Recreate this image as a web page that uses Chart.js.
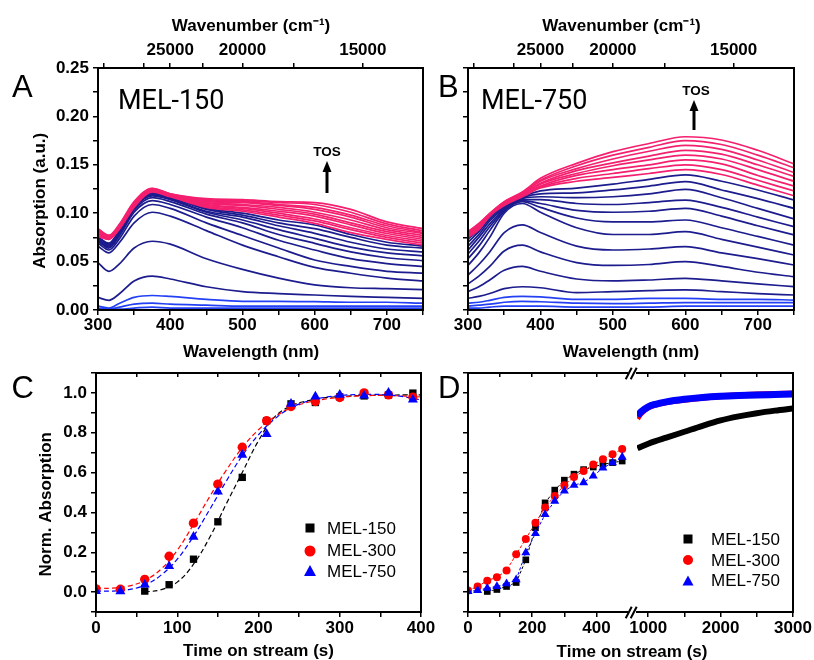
<!DOCTYPE html>
<html><head><meta charset="utf-8">
<script src="https://cdn.jsdelivr.net/npm/chart.js@4.4.1/dist/chart.umd.min.js"></script>
<style>
html,body{margin:0;padding:0;background:#fff;}
#wrap{position:relative;width:814px;height:660px;overflow:hidden;background:#fff;font-family:'Liberation Sans',Arial,sans-serif;}
canvas{position:absolute;}
.t{position:absolute;white-space:nowrap;line-height:1;color:#000;z-index:5;}
.letter{font-size:31px;}
.mel{font-family:Roboto,'Liberation Sans',sans-serif;font-size:27px;}
.tos{font-weight:bold;font-size:13.5px;transform:translateX(-50%);}
.leg{font-size:17px;}
.mk{position:absolute;z-index:5;}
.dt{font-weight:bold;font-size:17px;transform:translateX(-50%);}
</style></head><body>
<div id="wrap">
<canvas id="cA" width="440" height="365" style="left:0;top:0;width:440px;height:365px"></canvas>
<canvas id="cB" width="384" height="365" style="left:430px;top:0;width:384px;height:365px"></canvas>
<canvas id="cC" width="440" height="320" style="left:0;top:340px;width:440px;height:320px"></canvas>
<canvas id="cDL" width="210" height="320" style="left:430px;top:340px;width:210px;height:320px"></canvas>
<canvas id="cDR" width="189" height="320" style="left:625px;top:340px;width:189px;height:320px"></canvas>

<div class="t letter" style="left:12px;top:70.8px">A</div>
<div class="t letter" style="left:438px;top:70.8px">B</div>
<div class="t letter" style="left:11.5px;top:371.8px">C</div>
<div class="t letter" style="left:438px;top:371.8px">D</div>
<div class="t mel" style="left:118px;top:87.3px">MEL-150</div>
<div class="t mel" style="left:481px;top:87.3px">MEL-750</div>
<div class="t tos" style="left:327px;top:145.4px">TOS</div>
<div class="t tos" style="left:696px;top:84.4px">TOS</div>
<svg class="mk" width="814" height="660" style="left:0;top:0;pointer-events:none">
  <line x1="327" y1="193" x2="327" y2="170" stroke="#000" stroke-width="3"/>
  <polygon points="327,161 322.5,172 331.5,172" fill="#000"/>
  <line x1="694" y1="130" x2="694" y2="109" stroke="#000" stroke-width="3"/>
  <polygon points="694,100 689.5,111 698.5,111" fill="#000"/>
</svg>

<svg class="mk" width="14" height="14" style="left:303px;top:521.3px"><rect x="2.5" y="2.5" width="9" height="9" fill="#000"/></svg>
<svg class="mk" width="14" height="14" style="left:303px;top:543.7px"><circle cx="7" cy="7" r="5.5" fill="#ff0000"/></svg>
<svg class="mk" width="14" height="14" style="left:303px;top:564px"><polygon points="7,1 13,12 1,12" fill="#0000ff"/></svg>
<div class="t leg" style="left:327px;top:520px">MEL-150</div>
<div class="t leg" style="left:327px;top:542.4px">MEL-300</div>
<div class="t leg" style="left:327px;top:562.7px">MEL-750</div>

<svg class="mk" width="14" height="14" style="left:681.3px;top:532.3px"><rect x="2.5" y="2.5" width="9" height="9" fill="#000"/></svg>
<svg class="mk" width="14" height="14" style="left:681.3px;top:553px"><circle cx="7" cy="7" r="5" fill="#ff0000"/></svg>
<svg class="mk" width="14" height="14" style="left:681.3px;top:573.7px"><polygon points="7,1.5 12.5,11.5 1.5,11.5" fill="#0000ff"/></svg>
<div class="t leg" style="left:711px;top:531px">MEL-150</div>
<div class="t leg" style="left:711px;top:551.7px">MEL-300</div>
<div class="t leg" style="left:711px;top:572.4px">MEL-750</div>
<div class="t dt" style="left:632px;top:643.4px">Time on stream (s)</div>
</div>
<script>
// ---------------- DATA ----------------
const nm = [300,315,330,350,375,400,450,500,550,600,650,700,750];

// MEL-150 spectra (early TOS -> late TOS)
const specA = [
  [0.001,0.001,0.001,0.002,0.003,0.002,0.002,0.002,0.002,0.002,0.002,0.002,0.002],
  [0.002,0.001,0.003,0.006,0.007,0.006,0.005,0.004,0.004,0.004,0.004,0.004,0.004],
  [0.004,0.002,0.007,0.013,0.015,0.014,0.011,0.009,0.009,0.0086,0.008,0.008,0.007],
  [0.013,0.010,0.017,0.030,0.035,0.032,0.024,0.019,0.017,0.0155,0.014,0.013,0.012],
  [0.049,0.040,0.048,0.064,0.071,0.068,0.053,0.042,0.033,0.026,0.023,0.022,0.021],
  [0.066,0.059,0.070,0.090,0.101,0.097,0.082,0.067,0.055,0.044,0.038,0.033,0.030],
  [0.069,0.062,0.074,0.097,0.109,0.105,0.090,0.077,0.064,0.0517,0.045,0.040,0.038],
  [0.071,0.064,0.077,0.101,0.113,0.109,0.096,0.085,0.072,0.062,0.053,0.048,0.045],
  [0.072,0.065,0.079,0.103,0.116,0.112,0.099,0.090,0.078,0.0689,0.060,0.054,0.051],
  [0.073,0.066,0.080,0.105,0.118,0.114,0.101,0.093,0.083,0.074,0.065,0.059,0.056],
  [0.074,0.067,0.081,0.106,0.119,0.115,0.102,0.096,0.087,0.0792,0.070,0.063,0.060],
  [0.075,0.068,0.082,0.107,0.120,0.116,0.104,0.098,0.090,0.084,0.075,0.067,0.064],
  [0.0755,0.069,0.083,0.108,0.121,0.1165,0.105,0.100,0.093,0.0878,0.078,0.070,0.066],
  [0.076,0.073,0.084,0.106,0.122,0.117,0.106,0.102,0.096,0.0895,0.080,0.073,0.067],
  [0.077,0.073,0.085,0.107,0.1225,0.1175,0.107,0.1035,0.098,0.092,0.083,0.075,0.069],
  [0.078,0.074,0.085,0.108,0.123,0.118,0.108,0.105,0.100,0.094,0.085,0.077,0.071],
  [0.079,0.074,0.086,0.108,0.1235,0.118,0.109,0.106,0.102,0.097,0.088,0.079,0.073],
  [0.080,0.075,0.086,0.109,0.124,0.1185,0.110,0.108,0.104,0.099,0.090,0.081,0.075],
  [0.081,0.075,0.087,0.110,0.1245,0.119,0.111,0.109,0.106,0.101,0.093,0.083,0.077],
  [0.082,0.076,0.087,0.110,0.125,0.119,0.112,0.111,0.108,0.104,0.096,0.085,0.079],
  [0.083,0.076,0.088,0.111,0.125,0.1195,0.113,0.112,0.109,0.106,0.098,0.087,0.080],
  [0.0835,0.077,0.088,0.111,0.1255,0.120,0.114,0.113,0.111,0.109,0.101,0.089,0.082],
  [0.084,0.077,0.089,0.112,0.1257,0.120,0.115,0.114,0.112,0.111,0.104,0.091,0.084]
];
// MEL-750 spectra
const specB = [
  [0.002,0.002,0.003,0.004,0.004,0.004,0.003,0.003,0.003,0.004,0.004,0.004,0.004],
  [0.004,0.005,0.006,0.008,0.009,0.0085,0.007,0.0065,0.007,0.0076,0.0076,0.0076,0.0076],
  [0.007,0.008,0.010,0.013,0.014,0.0135,0.011,0.011,0.012,0.012,0.011,0.011,0.0103],
  [0.012,0.014,0.017,0.022,0.024,0.023,0.018,0.019,0.020,0.0207,0.019,0.017,0.0155],
  [0.019,0.024,0.031,0.041,0.045,0.040,0.032,0.030,0.031,0.0327,0.030,0.027,0.0241],
  [0.027,0.035,0.045,0.061,0.067,0.060,0.049,0.046,0.047,0.0499,0.045,0.039,0.0344],
  [0.036,0.047,0.060,0.080,0.088,0.080,0.066,0.062,0.063,0.0654,0.059,0.053,0.0465],
  [0.046,0.059,0.075,0.100,0.110,0.101,0.085,0.078,0.078,0.0809,0.073,0.065,0.0568],
  [0.053,0.066,0.082,0.102,0.112,0.106,0.095,0.091,0.091,0.093,0.085,0.076,0.067],
  [0.058,0.071,0.086,0.103,0.113,0.110,0.103,0.101,0.102,0.105,0.097,0.087,0.0775],
  [0.062,0.075,0.089,0.104,0.114,0.114,0.110,0.109,0.111,0.1136,0.106,0.096,0.086],
  [0.066,0.078,0.092,0.105,0.115,0.117,0.116,0.117,0.120,0.1247,0.116,0.105,0.094],
  [0.070,0.081,0.094,0.106,0.116,0.120,0.121,0.124,0.128,0.1326,0.124,0.115,0.105],
  [0.073,0.083,0.096,0.107,0.117,0.123,0.126,0.130,0.135,0.1395,0.133,0.124,0.1136],
  [0.075,0.083,0.097,0.108,0.117,0.126,0.133,0.137,0.141,0.145,0.140,0.129,0.118],
  [0.076,0.084,0.0975,0.1085,0.118,0.127,0.136,0.141,0.146,0.150,0.145,0.134,0.123],
  [0.077,0.085,0.098,0.109,0.1185,0.128,0.139,0.145,0.150,0.155,0.151,0.139,0.128],
  [0.078,0.086,0.098,0.110,0.119,0.130,0.141,0.149,0.155,0.160,0.156,0.145,0.133],
  [0.079,0.087,0.099,0.110,0.120,0.131,0.144,0.152,0.159,0.165,0.161,0.150,0.138],
  [0.0795,0.088,0.099,0.111,0.1205,0.133,0.146,0.156,0.164,0.170,0.166,0.155,0.142],
  [0.080,0.089,0.0995,0.1115,0.121,0.134,0.149,0.160,0.168,0.175,0.171,0.160,0.147],
  [0.081,0.0895,0.0998,0.112,0.122,0.136,0.1515,0.1636,0.172,0.179,0.1756,0.165,0.151]
];
const wnTicks = [32500,27500,25000,22500,20000,17500,15000];
const wnLabels = [25000,20000,15000];
const nmTicks = [300,350,400,450,500,550,600,650,700,750];
const absTicks = [0,0.025,0.05,0.075,0.1,0.125,0.15,0.175,0.2,0.225,0.25];

// Panel C
const tC = [0,30,60,90,120,150,180,210,240,270,300,330,360,390];
const c150 = [null,null,0.005,0.037,0.165,0.353,0.576,0.86,0.945,0.952,0.98,0.985,0.99,0.999];
const c300 = [0.016,0.014,0.064,0.18,0.346,0.542,0.727,0.86,0.932,0.957,0.977,1.0,0.99,0.979];
const c750 = [0.005,0.004,0.037,0.13,0.277,0.504,0.689,0.793,0.945,0.982,0.99,0.986,1.0,0.966];
const tFit = [0,20,40,60,80,100,120,140,160,180,200,220,240,260,280,300,320,340,360,380,400];
const fit150 = [null,null,null,0.0,0.012,0.05,0.14,0.275,0.44,0.6,0.76,0.88,0.935,0.96,0.975,0.982,0.986,0.988,0.989,0.99,0.99];
const fit300 = [0.02,0.02,0.03,0.058,0.115,0.21,0.34,0.48,0.61,0.725,0.815,0.88,0.925,0.952,0.968,0.978,0.984,0.987,0.987,0.984,0.98];
const fit750 = [0.005,0.005,0.012,0.035,0.085,0.165,0.28,0.415,0.555,0.685,0.79,0.87,0.925,0.958,0.977,0.987,0.992,0.993,0.99,0.98,0.965];
const cXTicks = [0,50,100,150,200,250,300,350,400];
const normTicks = [-0.1,0,0.1,0.2,0.3,0.4,0.5,0.6,0.7,0.8,0.9,1.0,1.1];

// Panel D (short times)
const tD = [0,30,60,90,120,150,180,210,240,270,300,330,360,390,420,450,480];
const d150 = [null,null,0.003,0.013,0.028,0.048,0.162,0.323,0.448,0.512,0.562,0.592,0.615,0.628,0.642,0.65,0.658];
const d300 = [0.008,0.028,0.057,0.075,0.108,0.19,0.267,0.348,0.425,0.483,0.537,0.578,0.608,0.64,0.667,0.692,0.718];
const d750 = [0.003,0.008,0.02,0.028,0.042,0.062,0.198,0.295,0.39,0.457,0.508,0.537,0.55,0.583,0.623,0.65,0.678];
// Panel D (long times)
const tDL = [850,900,1000,1100,1250,1500,1750,2000,2250,2500,2750,3000];
const dl150 = [0.722,0.73,0.745,0.758,0.775,0.805,0.835,0.862,0.882,0.898,0.911,0.922];
const dl300 = [0.872,0.898,0.927,0.941,0.953,0.966,0.976,0.983,0.988,0.992,0.995,0.997];
const dl750 = [0.885,0.905,0.93,0.943,0.955,0.968,0.977,0.983,0.987,0.99,0.992,0.994];
const dXTicks1 = [0,100,200,300,400];
const dXTicks2 = [1000,1500,2000,2500,3000];

// ---------------- HELPERS ----------------
const FAM = "'Liberation Sans', Arial, sans-serif";
const TF = {family:FAM, size:17, weight:'bold'};
const TIT = {family:FAM, size:17, weight:'bold', lineHeight:1};
Chart.defaults.color = '#000';
Chart.defaults.font.family = FAM;
function grid(len){ return {display:true, drawOnChartArea:false, drawTicks:true, tickLength:len, color:'#000', lineWidth:1.5}; }
function fixed(size){ return s => { if (s.isHorizontal()) s.height = size; else s.width = size; }; }
function setTicks(list){ return s => { s.ticks = list.map(v => ({value:v})); }; }
function pts(xs, ys){ return xs.map((x,i)=>({x:x, y:ys[i]})); }
// later datasets drawn on top
function stackOrder(ds){ ds.forEach((d,i)=>{ d.order = -i; }); return ds; }
function frame(sides){
  return {id:'frame', afterDraw(c){
    const a=c.chartArea, x=c.ctx; x.save(); x.strokeStyle='#000'; x.lineWidth=2; x.lineCap='square';
    x.beginPath();
    if (sides.includes('l')) { x.moveTo(a.left,a.top); x.lineTo(a.left,a.bottom); }
    if (sides.includes('r')) { x.moveTo(a.right,a.top); x.lineTo(a.right,a.bottom); }
    if (sides.includes('t')) { x.moveTo(a.left,a.top); x.lineTo(a.right,a.top); }
    if (sides.includes('b')) { x.moveTo(a.left,a.bottom); x.lineTo(a.right,a.bottom); }
    x.stroke();
    if (sides.includes('k')) {
      x.lineCap='butt';
      [a.top, a.bottom].forEach(y => {
        x.beginPath();
        x.moveTo(a.right-1.3, y+6.3); x.lineTo(a.right+4.7, y-5.3);
        x.moveTo(a.right+3.7, y+6.3); x.lineTo(a.right+9.7, y-5.3);
        x.stroke();
      });
    }
    x.restore();
  }};
}
const common = {responsive:false, animation:false, events:[], devicePixelRatio:1,
  plugins:{legend:{display:false}, tooltip:{enabled:false}}};

function specColor(i, nBright, nNavy){
  if (i < nBright) return '#2440f5';
  if (i < nNavy) return '#1c1c8e';
  return '#f4206f';
}

function specChart(id, spec, nBright, nNavy, showY, yW, padR, topTitle, botTitle){
  const ds = stackOrder(spec.map((arr,i)=>({data:pts(nm, arr), borderColor:specColor(i,nBright,nNavy), borderWidth:1.7,
    pointRadius:0, cubicInterpolationMode:'monotone', fill:false})));
  new Chart(document.getElementById(id), {
    type:'line',
    data:{datasets:ds},
    options:Object.assign({}, common, {
      layout:{padding:{left:0,right:padR,top:0,bottom:0}},
      scales:{
        x:{type:'linear', position:'bottom', min:300, max:750, afterBuildTicks:setTicks(nmTicks), afterFit:fixed(55),
           ticks:{autoSkip:false, maxRotation:0, minRotation:0, padding:0, font:TF, color:'#000',
                  callback:(v,i)=> i%2===0 ? String(v) : ''},
           grid:grid(5), border:{display:false},
           title:{display:true, text:botTitle, font:TIT, color:'#000', padding:{top:0,bottom:4.5}}},
        xTop:{type:'linear', position:'top', min:300, max:750,
           afterBuildTicks:s=>{ s.ticks = wnTicks.map(w=>({value:1e7/w})); }, afterFit:fixed(68),
           ticks:{autoSkip:false, maxRotation:0, minRotation:0, padding:2, font:TF, color:'#000',
                  callback:(v)=>{ const w=Math.round(1e7/v/100)*100; return wnLabels.includes(w) ? String(w) : ''; }},
           grid:grid(5), border:{display:false},
           title:{display:true, text:topTitle, font:TIT, color:'#000', padding:{top:17.5,bottom:0}}},
        y:{type:'linear', position:'left', min:0, max:0.25, afterBuildTicks:setTicks(absTicks), afterFit:fixed(yW),
           ticks:{display:showY, autoSkip:false, padding:4, font:TF, color:'#000',
                  callback:(v,i)=> i%2===0 ? v.toFixed(2) : ''},
           grid:grid(5), border:{display:false},
           title:{display:showY, text:'Absorption (a.u.)     ', font:TIT, color:'#000', padding:{top:32,bottom:0}}}
      }
    }),
    plugins:[frame('lrtb')]
  });
}

specChart('cA', specA, 3, 13, true, 98, 17, 'Wavenumber (cm\u207B\u00B9)    ', 'Wavelength (nm)    ');
specChart('cB', specB, 3, 14, false, 38, 20, 'Wavenumber (cm\u207B\u00B9)    ', 'Wavelength (nm)');

// ---------- Panel C ----------
const normCb = (v)=>{ const k=Math.round(v*10); return (k>=0 && k<=10 && k%2===0) ? (k/10).toFixed(1) : ''; };
new Chart(document.getElementById('cC'), {
  type:'scatter',
  data:{datasets:stackOrder([
    {data:pts(tFit,fit150), showLine:true, borderColor:'#000', borderWidth:1.2, borderDash:[5,3], pointRadius:0, tension:0.4},
    {data:pts(tFit,fit300), showLine:true, borderColor:'#ff0000', borderWidth:1.2, borderDash:[5,3], pointRadius:0, tension:0.4},
    {data:pts(tFit,fit750), showLine:true, borderColor:'#0000ff', borderWidth:1.2, borderDash:[5,3], pointRadius:0, tension:0.4},
    {data:pts(tC,c150), pointStyle:'rect', pointRadius:5.2, backgroundColor:'#000', borderColor:'#000', borderWidth:0},
    {data:pts(tC,c300), pointStyle:'circle', pointRadius:4.7, backgroundColor:'#ff0000', borderColor:'#ff0000', borderWidth:0},
    {data:pts(tC,c750), pointStyle:'triangle', pointRadius:5.8, backgroundColor:'#0000ff', borderColor:'#0000ff', borderWidth:0}
  ])},
  options:Object.assign({}, common, {
    layout:{padding:{left:0,right:19,top:33,bottom:0}},
    scales:{
      x:{type:'linear', position:'bottom', min:0, max:400, afterBuildTicks:setTicks(cXTicks), afterFit:fixed(48),
         ticks:{autoSkip:false, maxRotation:0, minRotation:0, padding:1, font:TF, color:'#000',
                callback:(v,i)=> i%2===0 ? String(v) : ''},
         grid:grid(5), border:{display:false},
         title:{display:true, text:'Time on stream (s)', font:TIT, color:'#000', padding:{top:0,bottom:0}}},
      xTop:{type:'linear', position:'top', min:0, max:400, afterBuildTicks:setTicks(cXTicks), afterFit:fixed(0),
         ticks:{display:false}, grid:grid(-4), border:{display:false}},
      y:{type:'linear', position:'left', min:-0.1, max:1.1, afterBuildTicks:setTicks(normTicks), afterFit:fixed(96),
         ticks:{autoSkip:false, padding:4, font:TF, color:'#000', callback:normCb},
         grid:grid(5), border:{display:false},
         title:{display:true, text:'Norm. Absorption     ', font:TIT, color:'#000', padding:{top:38,bottom:0}}}
    }
  }),
  plugins:[frame('lrtb')]
});

// ---------- Panel D (left segment) ----------
new Chart(document.getElementById('cDL'), {
  type:'scatter',
  data:{datasets:stackOrder([
    {data:pts(tD,d150), showLine:true, spanGaps:true, borderColor:'#000', borderWidth:1, borderDash:[3,2], pointStyle:'rect', pointRadius:4.7, backgroundColor:'#000', pointBorderWidth:0},
    {data:pts(tD,d300), showLine:true, borderColor:'#ff0000', borderWidth:1, borderDash:[3,2], pointStyle:'circle', pointRadius:4, backgroundColor:'#ff0000', pointBorderWidth:0},
    {data:pts(tD,d750), showLine:true, borderColor:'#0000ff', borderWidth:1, borderDash:[3,2], pointStyle:'triangle', pointRadius:5.2, backgroundColor:'#0000ff', pointBorderWidth:0}
  ])},
  options:Object.assign({}, common, {
    layout:{padding:{left:0,right:13,top:33,bottom:0}},
    scales:{
      x:{type:'linear', position:'bottom', min:0, max:495, afterBuildTicks:setTicks(dXTicks1), afterFit:fixed(48),
         ticks:{autoSkip:false, maxRotation:0, minRotation:0, padding:1, font:TF, color:'#000',
                callback:(v,i)=> i%2===0 ? String(v) : ''},
         grid:grid(5), border:{display:false}},
      xTop:{type:'linear', position:'top', min:0, max:495, afterBuildTicks:setTicks(dXTicks1), afterFit:fixed(0),
         ticks:{display:false}, grid:grid(-4), border:{display:false}},
      y:{type:'linear', position:'left', min:-0.1, max:1.1, afterBuildTicks:setTicks(normTicks), afterFit:fixed(38),
         ticks:{display:false}, grid:grid(5), border:{display:false}}
    }
  }),
  plugins:[frame('ltbk')]
});

// ---------- Panel D (right segment) ----------
new Chart(document.getElementById('cDR'), {
  type:'scatter',
  data:{datasets:stackOrder([
    {data:pts(tDL,dl150), showLine:true, borderColor:'#000', borderWidth:6, pointRadius:0, cubicInterpolationMode:'monotone'},
    {data:pts(tDL,dl300), showLine:true, borderColor:'#ff0000', borderWidth:6, pointRadius:0, cubicInterpolationMode:'monotone'},
    {data:pts(tDL,dl750), showLine:true, borderColor:'#0000ff', borderWidth:7, pointRadius:0, cubicInterpolationMode:'monotone'}
  ])},
  options:Object.assign({}, common, {
    layout:{padding:{left:12,right:21,top:33,bottom:0}},
    scales:{
      x:{type:'linear', position:'bottom', min:845, max:3000, afterBuildTicks:setTicks(dXTicks2), afterFit:fixed(48),
         ticks:{autoSkip:false, maxRotation:0, minRotation:0, padding:1, font:TF, color:'#000',
                callback:(v)=> v%1000===0 ? String(v) : ''},
         grid:grid(5), border:{display:false}},
      xTop:{type:'linear', position:'top', min:845, max:3000, afterBuildTicks:setTicks(dXTicks2), afterFit:fixed(0),
         ticks:{display:false}, grid:grid(-4), border:{display:false}},
      y:{type:'linear', display:false, min:-0.1, max:1.1}
    }
  }),
  plugins:[frame('rtb')]
});
</script>
</body></html>
